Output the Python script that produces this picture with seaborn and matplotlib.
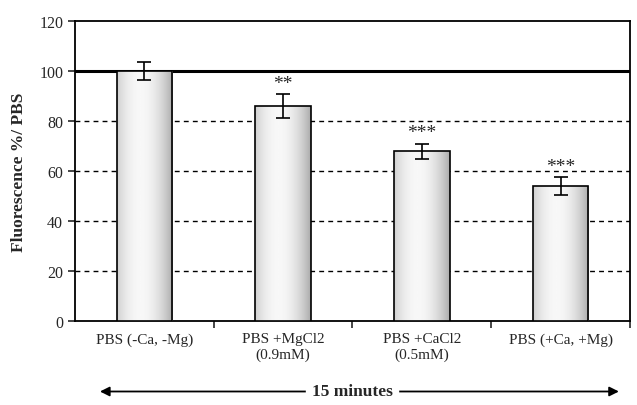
import numpy as np
import pandas as pd
import matplotlib
matplotlib.use('Agg')
import matplotlib.pyplot as plt
import seaborn as sns

# values
conditions = ['PBS (-Ca, -Mg)', 'PBS +MgCl2\n(0.9mM)', 'PBS +CaCl2\n(0.5mM)', 'PBS (+Ca, +Mg)']
fluorescence = [100, 86, 68, 54]
errors = [3.6, 4.8, 3.0, 3.5]
stars = ['', '**', '***', '***']

df = pd.DataFrame({'condition': conditions, 'value': fluorescence})

sns.set_style('white')
plt.rcParams['font.family'] = ['Liberation Serif', 'DejaVu Serif']

fig = plt.figure(figsize=(6.37, 4.06), dpi=100)
ax = fig.add_axes([0.1177, 0.2069, 0.8713, 0.7389])

sns.barplot(data=df, x='condition', y='value', color='white', width=0.4,
            edgecolor='black', linewidth=1.2, ax=ax, zorder=3)

# cylinder-like grey gradient inside each bar
xs = np.linspace(0, 1, 200)
shade = 0.97 - 0.30 * ((xs - 0.42) / 0.58) ** 2
grad = np.tile(shade, (2, 1))
for p in ax.patches:
    x0, w, h = p.get_x(), p.get_width(), p.get_height()
    im = ax.imshow(grad, cmap='gray', vmin=0, vmax=1, aspect='auto',
                   extent=[x0, x0 + w, 0, h], zorder=3.5, interpolation='bicubic')
    im.set_clip_path(p)
    p.set_zorder(4)
    p.set_facecolor('none')

ax.errorbar(range(len(conditions)), fluorescence, yerr=errors, fmt='none',
            ecolor='black', elinewidth=1.2, capsize=5, capthick=1.2, zorder=5)

for i, s in enumerate(stars):
    if s:
        ax.text(i, fluorescence[i] + errors[i] + 1.0, s, ha='center', va='bottom',
                fontsize=14, zorder=6)

# grid lines
for yv in [20, 40, 60, 80]:
    ax.axhline(yv, color='black', linestyle=(0, (3.5, 3)), linewidth=1.0, zorder=1)
ax.axhline(100, color='black', linewidth=2.2, zorder=2)

ax.set_xlim(-0.5, 3.5)
ax.set_ylim(0, 120)
ax.set_yticks(range(0, 121, 20))
ax.set_xticks([0.5, 1.5, 2.5, 3.5], minor=True)
ax.tick_params(axis='x', which='major', length=0, labelsize=11, pad=8)
ax.tick_params(axis='x', which='minor', length=5, width=1.2, direction='out', bottom=True)
ax.tick_params(axis='y', length=5, width=1.2, direction='out', left=True, labelsize=11.5)
ax.set_xlabel('')
ax.set_ylabel('Fluorescence %/ PBS', fontsize=12.5, fontweight='bold', labelpad=9)
for sp in ax.spines.values():
    sp.set_color('black')
    sp.set_linewidth(1.3)

# time arrow below the axis
ax.annotate('', xy=(0.985, -0.235), xytext=(0.04, -0.235), xycoords='axes fraction',
            arrowprops=dict(arrowstyle='<|-|>', color='black', lw=1.3, mutation_scale=14),
            annotation_clip=False)
ax.text(0.5, -0.235, '15 minutes', transform=ax.transAxes, ha='center', va='center',
        fontsize=12.5, fontweight='bold', backgroundcolor='white', zorder=6)

fig.savefig('out.png', dpi=100)
